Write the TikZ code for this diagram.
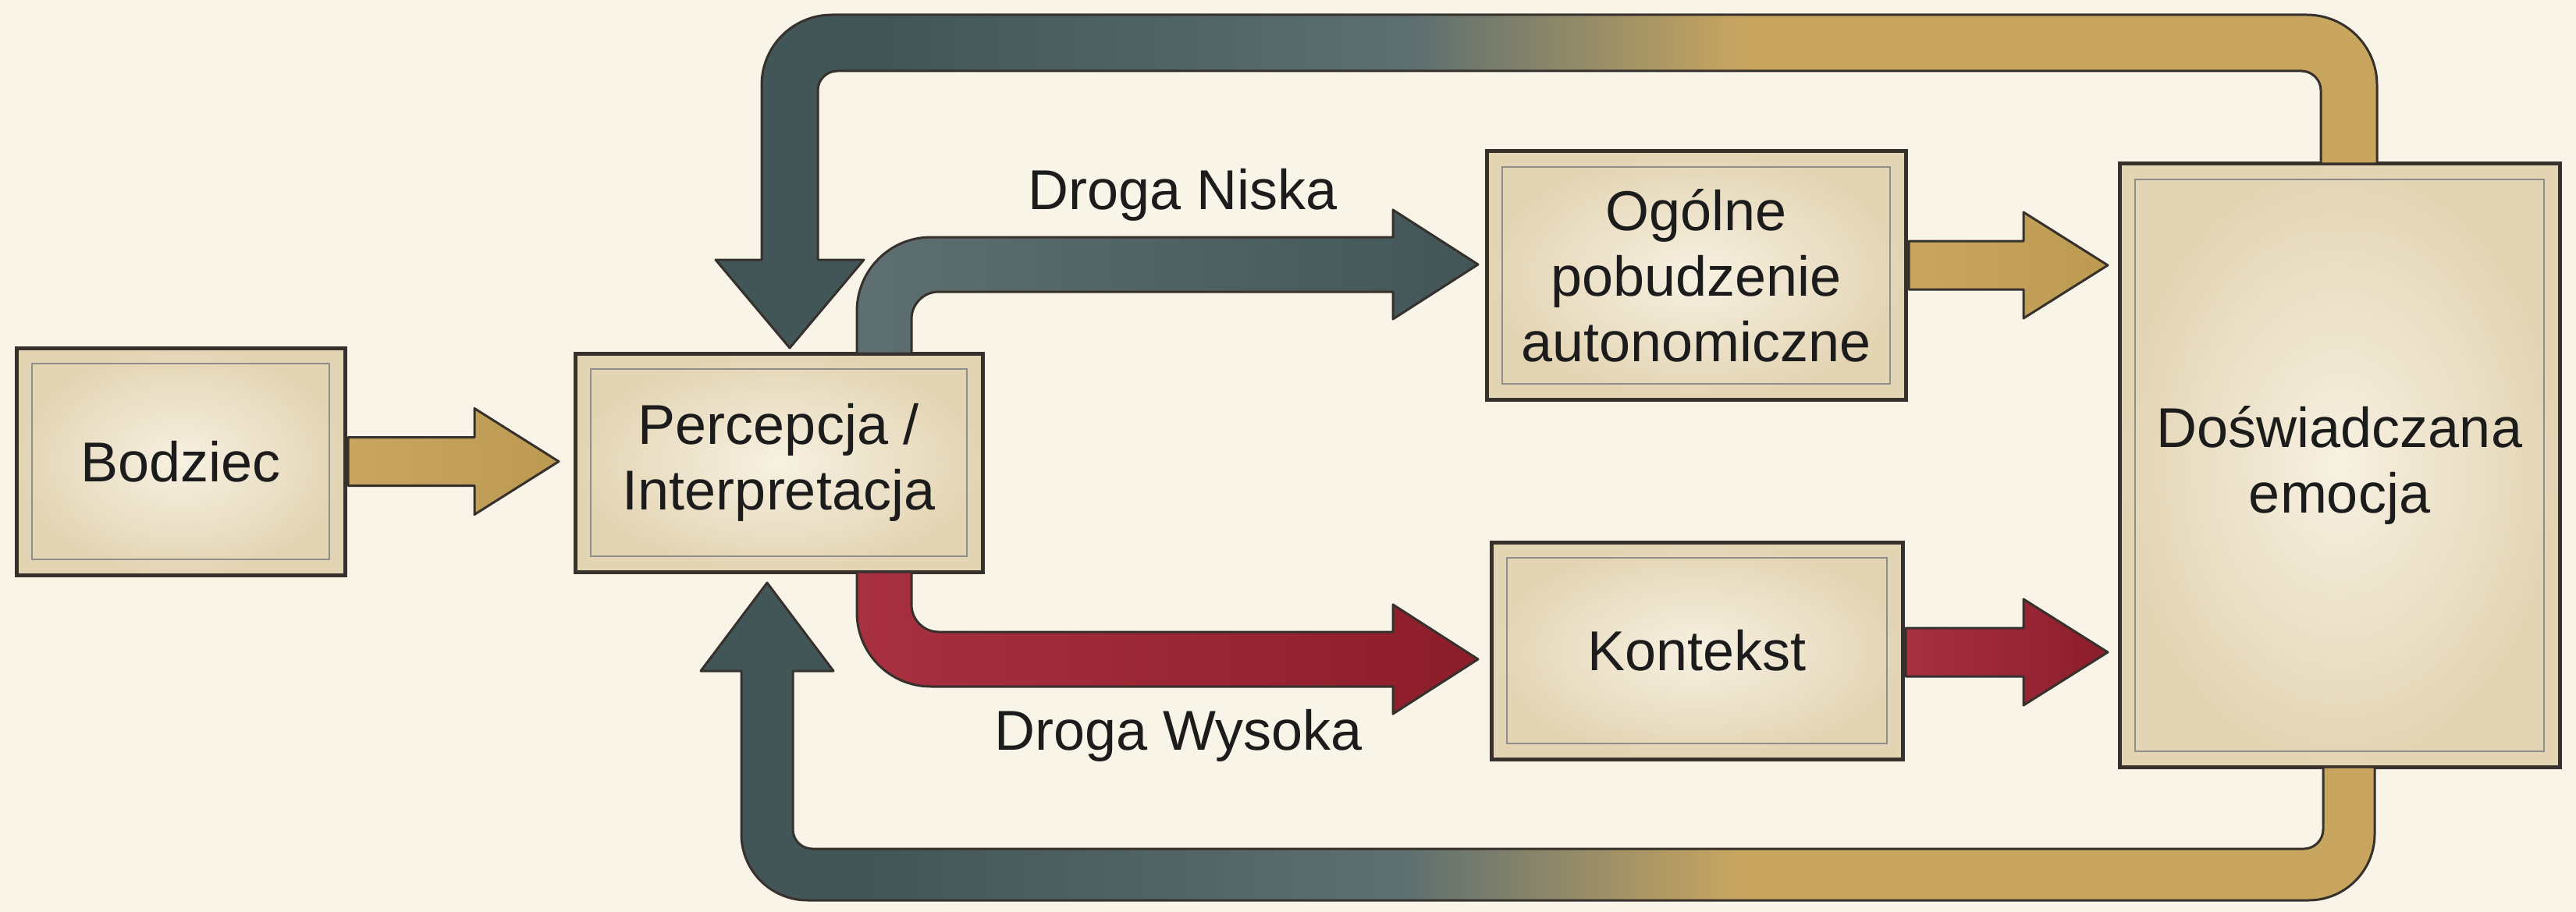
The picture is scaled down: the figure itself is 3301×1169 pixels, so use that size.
\documentclass[tikz,border=0pt]{standalone}
\usepackage{fontspec}
\setmainfont{Liberation Sans}
\usetikzlibrary{calc}
\definecolor{bg}{HTML}{F8F4E7}
\definecolor{ink}{HTML}{36312C}
\definecolor{paperin}{HTML}{F7F1E2}
\definecolor{paperout}{HTML}{E3D4B3}
\definecolor{gold}{HTML}{C9A660}
\definecolor{golddk}{HTML}{BD9A52}
\definecolor{slate}{HTML}{5D6F70}
\definecolor{slatedk}{HTML}{435657}
\definecolor{wine}{HTML}{A83040}
\definecolor{winedk}{HTML}{8C1D2A}
\definecolor{txt}{HTML}{1C1C1C}
\pgfdeclarehorizontalshading{fbshade}{100bp}{color(0bp)=(slatedk); color(30bp)=(slatedk); color(46bp)=(slate); color(56bp)=(gold); color(100bp)=(gold)}
\newcommand\innerframe[1]{\draw[frame] ($(#1.north west)+(20,20)$) rectangle ($(#1.south east)+(-20,-20)$);}
\newcommand\straightarrow[3]{%
  \path[arr,#3] ($(#1)+(0,-31)$) -- ($(#2)+(-108,-31)$) -- ($(#2)+(-108,-68)$) -- (#2)
    -- ($(#2)+(-108,68)$) -- ($(#2)+(-108,31)$) -- ($(#1)+(0,31)$) -- cycle;}
\begin{document}
\begin{tikzpicture}[x=1pt,y=-1pt,
  box/.style={draw=ink, line width=5pt, inner color=paperin, outer color=paperout,
    inner sep=0pt, outer sep=0pt, align=center, text=txt,
    font=\fontsize{72}{84}\selectfont},
  lbl/.style={text=txt, inner sep=0pt, font=\fontsize{72}{84}\selectfont},
  frame/.style={draw=ink!55, line width=2pt},
  arr/.style={draw=ink, line width=3pt, line join=round}]
\useasboundingbox (0,0) rectangle (3301,1169);
\fill[bg] (0,0) rectangle (3301,1169);

% boxes
\node[box, minimum width=421pt, minimum height=291pt] (bod) at (231.5,591.5) {Bodziec};
\node[box, minimum width=522pt, minimum height=280pt] (perc) at (998,593) {Percepcja /\\Interpretacja};
\node[box, minimum width=537pt, minimum height=318pt] (ogol) at (2173.5,353) {Ogólne\\pobudzenie\\autonomiczne};
\node[box, minimum width=527pt, minimum height=278pt] (kont) at (2174.5,834) {Kontekst};
\node[box, minimum width=564pt, minimum height=773pt] (dosw) at (2998,596.5) {Doświadczana\\emocja};
\innerframe{bod}
\innerframe{perc}
\innerframe{ogol}
\innerframe{kont}
\innerframe{dosw}

% labels
\node[lbl] (lowlbl) at (1516,250) {Droga Niska};
\node[lbl] (highlbl) at (1510,943) {Droga Wysoka};

% straight arrows
\coordinate (a1s) at ($(bod.east)+(4,0)$);
\coordinate (a1t) at ($(perc.west|-a1s)+(-21,0)$);
\straightarrow{a1s}{a1t}{left color=gold, right color=golddk}
\coordinate (a2s) at ($(ogol.east)+(4,-13)$);
\coordinate (a2t) at ($(dosw.west|-a2s)+(-15,0)$);
\straightarrow{a2s}{a2t}{left color=gold, right color=golddk}
\coordinate (a3s) at ($(kont.east)+(4,2)$);
\coordinate (a3t) at ($(dosw.west|-a3s)+(-15,0)$);
\straightarrow{a3s}{a3t}{left color=wine, right color=winedk}

% Droga Niska
\coordinate (nS) at ($(perc.north)+(135,0)$);
\coordinate (nT) at ($(ogol.west)+(-11,-14)$);
\coordinate (nC) at (nS|-nT);
\path[arr, left color=slate, right color=slatedk]
  ($(nS)+(-35,0)$) -- ($(nC)+(-35,60)$) to[out=90,in=180] ($(nC)+(60,-35)$)
  -- ($(nT)+(-109,-35)$) -- ($(nT)+(-109,-70)$) -- (nT) -- ($(nT)+(-109,70)$)
  -- ($(nT)+(-109,35)$) -- ($(nC)+(70,35)$) to[out=180,in=90] ($(nC)+(35,70)$)
  -- ($(nS)+(35,0)$) -- cycle;

% Droga Wysoka
\coordinate (wS) at ($(perc.south)+(135,0)$);
\coordinate (wT) at ($(kont.west)+(-17,11)$);
\coordinate (wC) at (wS|-wT);
\path[arr, left color=wine, right color=winedk]
  ($(wS)+(-35,0)$) -- ($(wC)+(-35,-60)$) to[out=-90,in=180] ($(wC)+(60,35)$)
  -- ($(wT)+(-109,35)$) -- ($(wT)+(-109,70)$) -- (wT) -- ($(wT)+(-109,-70)$)
  -- ($(wT)+(-109,-35)$) -- ($(wC)+(70,-35)$) to[out=180,in=-90] ($(wC)+(35,-70)$)
  -- ($(wS)+(35,0)$) -- cycle;

% top feedback
\coordinate (tS) at ($(dosw.north)+(12,0)$);
\coordinate (tT) at ($(perc.north)+(14,-7)$);
\coordinate (tR) at ($(tS)+(0,-155)$);
\coordinate (tL) at (tT|-tR);
\shadedraw[arr, shading=fbshade]
  ($(tS)+(-36,0)$) -- ($(tR)+(-36,61)$) to[out=90,in=0] ($(tR)+(-61,36)$)
  -- ($(tL)+(61,36)$) to[out=180,in=90] ($(tL)+(36,61)$)
  -- ($(tT)+(36,-113)$) -- ($(tT)+(95,-113)$) -- (tT) -- ($(tT)+(-95,-113)$)
  -- ($(tT)+(-36,-113)$) -- ($(tL)+(-36,54)$) to[out=90,in=180] ($(tL)+(54,-36)$)
  -- ($(tR)+(-54,-36)$) to[out=0,in=90] ($(tR)+(36,54)$)
  -- ($(tS)+(36,0)$) -- cycle;

% bottom feedback
\coordinate (bS) at ($(dosw.south)+(12,0)$);
\coordinate (bT) at ($(perc.south)+(-15,14)$);
\coordinate (bR) at ($(bS)+(0,138)$);
\coordinate (bL) at (bT|-bR);
\shadedraw[arr, shading=fbshade]
  ($(bS)+(-33,0)$) -- ($(bR)+(-33,-58)$) to[out=-90,in=0] ($(bR)+(-58,-33)$)
  -- ($(bL)+(58,-33)$) to[out=180,in=-90] ($(bL)+(33,-58)$)
  -- ($(bT)+(33,113)$) -- ($(bT)+(85,113)$) -- (bT) -- ($(bT)+(-85,113)$)
  -- ($(bT)+(-33,113)$) -- ($(bL)+(-33,-52)$) to[out=-90,in=180] ($(bL)+(52,33)$)
  -- ($(bR)+(-52,33)$) to[out=0,in=-90] ($(bR)+(33,-52)$)
  -- ($(bS)+(33,0)$) -- cycle;
\end{tikzpicture}
\end{document}
